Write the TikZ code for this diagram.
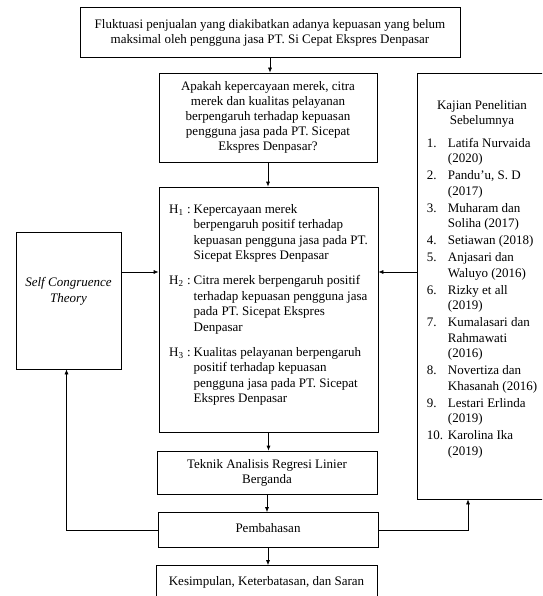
\documentclass[tikz,border=0pt]{standalone}
\usepackage{fontspec}
\setmainfont{Liberation Serif}
\usetikzlibrary{arrows.meta}

\begin{document}
\begin{tikzpicture}[x=1pt,y=-1pt,>={Latex[length=5pt,width=4pt]},
    every node/.style={font=\fontsize{13}{15}\selectfont},
    kotak/.style={draw, line width=0.7pt, align=center, inner sep=0pt}]
  \clip (0,0) rectangle (542,596);

  \node[kotak, minimum width=380pt, minimum height=50pt] (masalah) at (270,32.5)
    {Fluktuasi penjualan yang diakibatkan adanya kepuasan yang belum\\
     maksimal oleh pengguna jasa PT. Si Cepat Ekspres Denpasar};
  \node[kotak, minimum width=218pt, minimum height=89pt] (rumusan) at (268,117.5)
    {Apakah kepercayaan merek, citra\\merek dan kualitas pelayanan\\
     berpengaruh terhadap kepuasan\\pengguna jasa pada PT. Sicepat\\Ekspres Denpasar?};
  \node[kotak, minimum width=219pt, minimum height=245pt,
    font=\fontsize{13}{15.5}\selectfont] (hipotesis) at (268.5,309.5)
    {\begin{tabular}{@{}l@{\hspace{3.5pt}}l@{\hspace{3pt}}l@{}}
      H\textsubscript{1} & : & Kepercayaan merek\\
       & & berpengaruh positif terhadap\\
       & & kepuasan pengguna jasa pada PT.\\
       & & Sicepat Ekspres Denpasar\\[9.5pt]
      H\textsubscript{2} & : & Citra merek berpengaruh positif\\
       & & terhadap kepuasan pengguna jasa\\
       & & pada PT. Sicepat Ekspres\\
       & & Denpasar\\[9.5pt]
      H\textsubscript{3} & : & Kualitas pelayanan berpengaruh\\
       & & positif terhadap kepuasan\\
       & & pengguna jasa pada PT. Sicepat\\
       & & Ekspres Denpasar\\[9pt]
     \end{tabular}};
  \node[kotak, minimum width=220pt, minimum height=43pt] (teknik) at (267,472.5)
    {Teknik Analisis Regresi Linier\\Berganda};
  \node[kotak, minimum width=220pt, minimum height=35pt] (bahas) at (268,530)
    {\raisebox{5pt}{Pembahasan}};
  \node[kotak, minimum width=221pt, minimum height=35pt] (simpulan) at (266.5,583)
    {\raisebox{5pt}{Kesimpulan, Keterbatasan, dan Saran}};

  \node[kotak, minimum width=105pt, minimum height=137pt,
    font=\fontsize{13}{15.5}\selectfont\itshape] (teori) at (68.5,300.5)
    {Self Congruence\\Theory\\[6pt]};

  \node[kotak, minimum width=131pt, minimum height=426pt] (kajian) at (482.5,286) {};
  \node[anchor=north, align=center, inner sep=0pt,
    font=\fontsize{13}{15.5}\selectfont] (kajianisi) at (482,100)
    {Kajian Penelitian\\Sebelumnya\\[7pt]
     \begin{tabular}[t]{@{}p{21pt}@{}l@{}}
      1. & Latifa Nurvaida\\ & (2020)\\[1.5pt]
      2. & Pandu'u, S. D\\ & (2017)\\[1.5pt]
      3. & Muharam dan\\ & Soliha (2017)\\[1.5pt]
      4. & Setiawan (2018)\\[1.5pt]
      5. & Anjasari dan\\ & Waluyo (2016)\\[1.5pt]
      6. & Rizky et all\\ & (2019)\\[1.5pt]
      7. & Kumalasari dan\\ & Rahmawati\\ & (2016)\\[1.5pt]
      8. & Novertiza dan\\ & Khasanah (2016)\\[1.5pt]
      9. & Lestari Erlinda\\ & (2019)\\[1.5pt]
      10. & Karolina Ika\\ & (2019)
     \end{tabular}};

  \coordinate (panah) at (0,272);
  \draw[->, line width=0.7pt] (masalah.south) -- (masalah.south |- rumusan.north);
  \draw[->, line width=0.7pt] (rumusan.south) -- (rumusan.south |- hipotesis.north);
  \draw[->, line width=0.7pt] (hipotesis.south) -- (hipotesis.south |- teknik.north);
  \draw[->, line width=0.7pt] (teknik.south) -- (teknik.south |- bahas.north);
  \draw[->, line width=0.7pt] (bahas.south) -- (bahas.south |- simpulan.north);
  \draw[->, line width=0.7pt] (teori.east |- panah) -- (hipotesis.west |- panah);
  \draw[->, line width=0.7pt] (kajian.west |- panah) -- (hipotesis.east |- panah);
  \draw[->, line width=0.7pt] (bahas.west) -| ([xshift=-2pt]teori.south);
  \draw[->, line width=0.7pt] (bahas.east) -| ([xshift=-14.5pt]kajian.south);
\end{tikzpicture}
\end{document}
